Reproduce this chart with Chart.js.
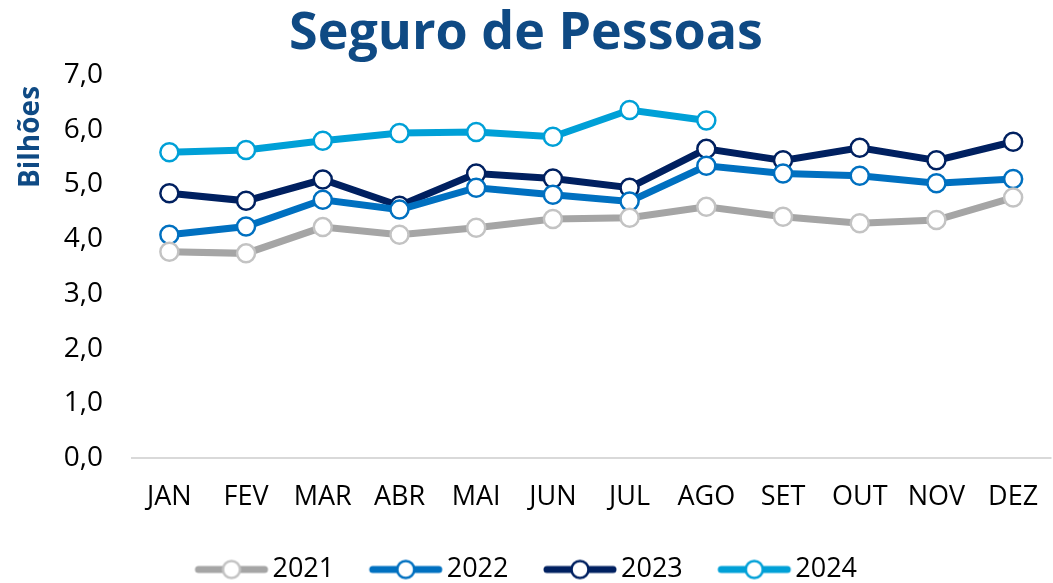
<!DOCTYPE html>
<html>
<head>
<meta charset="utf-8">
<script src="https://cdn.jsdelivr.net/npm/chart.js@4.4.1/dist/chart.umd.min.js"></script>
<style>
    html, body { margin: 0; padding: 0; background: #fff; overflow: hidden; }
    #wrap { width: 1063px; height: 583px; }
</style>
</head>
<body>
<div id="wrap"><canvas id="segChart" width="1063" height="583"></canvas></div>
<script>
// ### DATA ###
const meses = ['JAN', 'FEV', 'MAR', 'ABR', 'MAI', 'JUN', 'JUL', 'AGO', 'SET', 'OUT', 'NOV', 'DEZ'];
const anos = ['2021', '2022', '2023', '2024'];
const valores2021 = [3.77, 3.74, 4.22, 4.08, 4.21, 4.37, 4.39, 4.59, 4.41, 4.29, 4.35, 4.76];
const valores2022 = [4.08, 4.23, 4.72, 4.54, 4.94, 4.81, 4.69, 5.34, 5.20, 5.16, 5.02, 5.10];
const valores2023 = [4.84, 4.70, 5.09, 4.61, 5.20, 5.11, 4.94, 5.65, 5.44, 5.67, 5.44, 5.78];
const valores2024 = [5.59, 5.63, 5.80, 5.94, 5.96, 5.87, 6.36, 6.17];
const yTicks = [0, 1, 2, 3, 4, 5, 6, 7];

const linhaCores = ['#A5A5A5', '#0070C0', '#002060', '#00A0D7'];
const pontoCores = ['#C3C3C3', '#0070C0', '#002060', '#00A0D7'];
const tituloCor = '#0F4A84';
const fonte = '"Open Sans", sans-serif';

// Legend marker: thick line with an open circle in the middle.
// The image is wider than the legend box so the line sits right before the text.
function legendMarker(i) {
    const c = document.createElement('canvas');
    c.width = 122; c.height = 22;
    const g = c.getContext('2d');
    g.strokeStyle = linhaCores[i];
    g.lineWidth = 7;
    g.lineCap = 'round';
    g.beginPath(); g.moveTo(49, 11); g.lineTo(115, 11); g.stroke();
    g.beginPath(); g.arc(82, 11, 8.5, 0, Math.PI * 2);
    g.fillStyle = '#fff'; g.fill();
    g.lineWidth = 2.5; g.strokeStyle = pontoCores[i]; g.stroke();
    return c;
}

function serie(label, data, i) {
    return {
        label: label,
        data: data,
        borderColor: linhaCores[i],
        borderWidth: 7,
        pointRadius: 9,
        pointBorderWidth: 2.5,
        pointBackgroundColor: '#fff',
        pointBorderColor: pontoCores[i],
        tension: 0,
        fill: false
    };
}

// Title and rotated y caption drawn at fixed spots
const textosPlugin = {
    id: 'textos',
    afterLayout(chart) {
        // nudge the legend row a bit left, as in the original
        chart.legend.left -= 22;
        chart.legend.right -= 22;
    },
    afterDraw(chart) {
        const ctx = chart.ctx;
        ctx.save();
        ctx.fillStyle = tituloCor;
        ctx.textAlign = 'center';
        ctx.textBaseline = 'middle';
        ctx.font = 'bold 52px ' + fonte;
        ctx.fillText('Seguro de Pessoas', 526, 34);
        ctx.translate(31, 137);
        ctx.rotate(-Math.PI / 2);
        ctx.font = 'bold 28px ' + fonte;
        ctx.fillText('Bilhões', 0, 0);
        ctx.restore();
    }
};

new Chart(document.getElementById('segChart').getContext('2d'), {
    type: 'line',
    data: {
        labels: meses,
        datasets: [
            serie(anos[0], valores2021, 0),
            serie(anos[1], valores2022, 1),
            serie(anos[2], valores2023, 2),
            serie(anos[3], valores2024, 3)
        ]
    },
    options: {
        responsive: false,
        animation: false,
        layout: { padding: { top: 75, left: 0, right: 0, bottom: -10 } },
        plugins: {
            tooltip: { enabled: false },
            legend: {
                position: 'bottom',
                labels: {
                    usePointStyle: true,
                    pointStyleWidth: 97,
                    padding: 2,
                    color: '#000',
                    font: { family: fonte, size: 27, lineHeight: 1.2 },
                    generateLabels: chart => chart.data.datasets.map((ds, i) => ({
                        text: ds.label,
                        pointStyle: legendMarker(i),
                        fillStyle: '#fff',
                        strokeStyle: linhaCores[i],
                        lineWidth: 0,
                        datasetIndex: i
                    }))
                }
            }
        },
        scales: {
            x: {
                offset: true,
                grid: { display: false },
                border: { display: false },
                ticks: {
                    color: '#000',
                    padding: 15,
                    font: { family: fonte, size: 27 }
                },
                afterFit(scale) { scale.height = 96; }
            },
            y: {
                min: 0,
                max: 7,
                afterBuildTicks(scale) { scale.ticks = yTicks.map(v => ({ value: v })); },
                afterFit(scale) { scale.width = 131; },
                grid: {
                    drawTicks: false,
                    color: c => (c.tick && c.tick.value === 0 ? '#D9D9D9' : 'rgba(0,0,0,0)'),
                    lineWidth: 2
                },
                border: { display: false },
                ticks: {
                    color: '#000',
                    padding: 28,
                    font: { family: fonte, size: 28 },
                    callback: v => v.toFixed(1).replace('.', ',')
                }
            }
        }
    },
    plugins: [textosPlugin]
});
</script>
</body>
</html>
